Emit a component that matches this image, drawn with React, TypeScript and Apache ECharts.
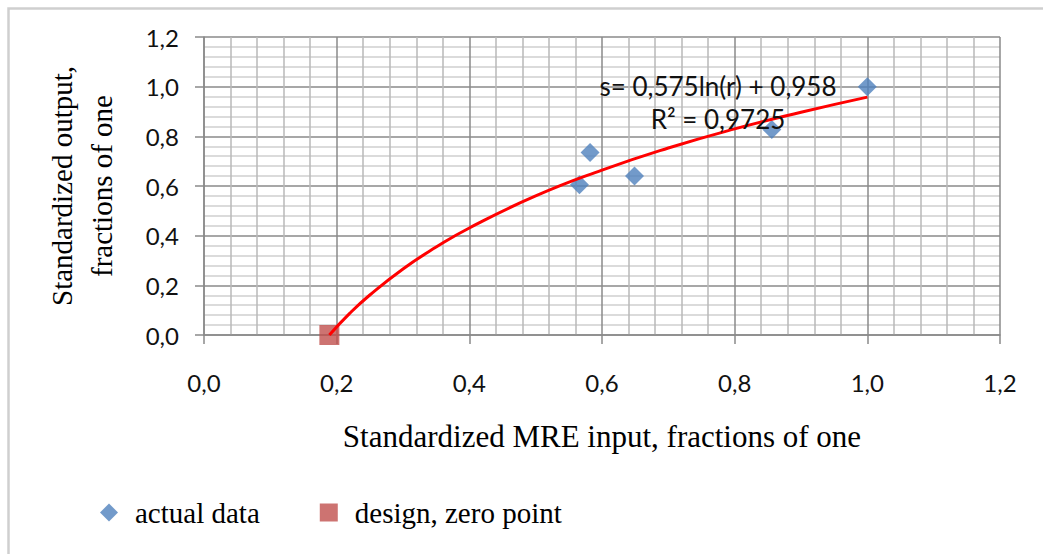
import React, { useEffect, useRef } from "react";
import * as echarts from "echarts";

const actualData: [number, number][] = [
  [0.566, 0.605],
  [0.582, 0.735],
  [0.649, 0.64],
  [0.856, 0.828],
  [1.0, 1.0],
];
const designPoint: [number, number][] = [[0.189, 0.0]];
// trend line points (s = 0,575ln(r) + 0,958)
const trendPoints: [number, number][] = [
  [0.189, 0.0],
  [0.22, 0.088],
  [0.25, 0.161],
  [0.3, 0.266],
  [0.35, 0.354],
  [0.4, 0.431],
  [0.5, 0.56],
  [0.6, 0.664],
  [0.7, 0.753],
  [0.8, 0.83],
  [0.9, 0.897],
  [1.0, 0.958],
];
const equationLine = "s= 0,575ln(r) + 0,958";
const r2Line = "R² = 0,9725";
const xTitle = "Standardized MRE input, fractions of one";
const yTitle = "Standardized output,\nfractions of one";
const legendNames = ["actual data", "design, zero point"];

const fmt = (v: number) => v.toFixed(1).replace(".", ",");

export default function App() {
  const ref = useRef<HTMLDivElement>(null);
  useEffect(() => {
    if (!ref.current) return;
    const chart = echarts.init(ref.current, undefined, { renderer: "svg" });
    const tickFont = "Lato, 'Open Sans', sans-serif";
    const serif = "'Liberation Serif', 'DejaVu Serif', serif";
    chart.setOption({
      animation: false,
      backgroundColor: "#ffffff",
      grid: { left: 204, right: 43, top: 37, bottom: 219 },
      legend: {
        data: [
          { name: legendNames[0], icon: "diamond" },
          { name: legendNames[1], icon: "rect" },
        ],
        left: 95,
        top: 493,
        itemWidth: 18,
        itemHeight: 18,
        itemGap: 60,
        textStyle: {
          fontFamily: serif,
          fontSize: 29,
          color: "#000",
          padding: [0, 0, 0, 12],
        },
      },
      xAxis: {
        type: "value",
        min: 0,
        max: 1.2,
        interval: 0.2,
        name: xTitle,
        nameLocation: "middle",
        nameGap: 86,
        nameTextStyle: { fontFamily: serif, fontSize: 31, color: "#000" },
        axisLine: { show: true, onZero: false, lineStyle: { color: "#8a8a8a", width: 1.5 } },
        axisTick: { show: true, length: 9, lineStyle: { color: "#8a8a8a", width: 1.5 } },
        axisLabel: {
          formatter: fmt,
          margin: 35,
          fontFamily: tickFont,
          fontSize: 24,
          color: "#111",
        },
        splitLine: { show: true, lineStyle: { color: "#8a8a8a", width: 1.5 } },
        minorTick: { show: false, splitNumber: 5 },
        minorSplitLine: { show: true, lineStyle: { color: "#b8b8b8", width: 1.5 } },
      },
      yAxis: {
        type: "value",
        min: 0,
        max: 1.2,
        interval: 0.2,
        name: yTitle,
        nameLocation: "middle",
        nameRotate: 90,
        nameGap: 82,
        nameTextStyle: {
          fontFamily: serif,
          fontSize: 29,
          color: "#000",
          lineHeight: 40,
          align: "center",
        },
        axisLine: { show: true, lineStyle: { color: "#8a8a8a", width: 1.5 } },
        axisTick: { show: true, length: 9, lineStyle: { color: "#8a8a8a", width: 1.5 } },
        axisLabel: {
          formatter: fmt,
          margin: 25,
          fontFamily: tickFont,
          fontSize: 24,
          color: "#111",
        },
        splitLine: { show: true, lineStyle: { color: "#8a8a8a", width: 1.5 } },
        minorTick: { show: false, splitNumber: 5 },
        minorSplitLine: { show: true, lineStyle: { color: "#cfcfcf", width: 1.5 } },
      },
      series: [
        {
          name: "trend",
          type: "line",
          data: trendPoints,
          smooth: true,
          showSymbol: false,
          symbol: "none",
          lineStyle: { color: "#ff0000", width: 3 },
          z: 3,
          silent: true,
        },
        {
          name: legendNames[0],
          type: "scatter",
          data: actualData,
          symbol: "diamond",
          symbolSize: 19,
          itemStyle: { color: "#4f81bd" },
          z: 2,
        },
        {
          name: legendNames[1],
          type: "scatter",
          data: designPoint,
          symbol: "rect",
          symbolSize: 20,
          itemStyle: { color: "#c0504d" },
          z: 2,
        },
      ],
      graphic: [
        {
          type: "rect",
          shape: { x: 8.5, y: 8.5, width: 1100, height: 600 },
          style: { fill: "none", stroke: "#cfcfcf", lineWidth: 2.5 },
          silent: true,
          z: 0,
        },
        {
          type: "text",
          x: 718,
          y: 86,
          style: {
            text: equationLine,
            fontFamily: tickFont,
            fontSize: 26,
            fill: "#111",
            align: "center",
            verticalAlign: "middle",
          },
          z: 10,
        },
        {
          type: "text",
          x: 718,
          y: 119,
          style: {
            text: r2Line,
            fontFamily: tickFont,
            fontSize: 26,
            fill: "#111",
            align: "center",
            verticalAlign: "middle",
          },
          z: 10,
        },
      ],
    });
    return () => chart.dispose();
  }, []);
  return (
    <div
      ref={ref}
      style={{ position: "fixed", left: 0, top: 0, width: 1043, height: 554, background: "#fff" }}
    />
  );
}
